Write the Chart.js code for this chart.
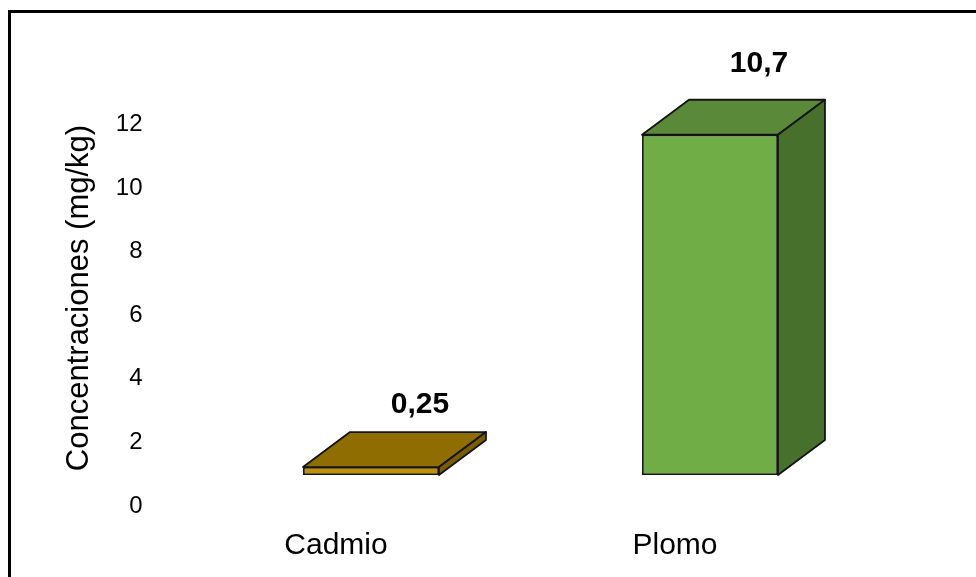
<!DOCTYPE html>
<html>
<head>
<meta charset="utf-8">
<script src="https://cdn.jsdelivr.net/npm/chart.js@4.4.1/dist/chart.umd.min.js"></script>
<style>
  html, body { margin: 0; padding: 0; background: #fff; }
  #wrap { width: 976px; height: 577px; position: relative; }
</style>
</head>
<body>
<div id="wrap"><canvas id="chart"></canvas></div>
<script>
// data
const categories = ['Cadmio', 'Plomo'];
const concentrations = [0.25, 10.7];
const yMin = 0;
const yMax = 12;
const yStep = 2;
const axisTitle = 'Concentraciones (mg/kg)';

// colours for the three faces of each box
const frontColors = ['#BF9000', '#70AD47'];
const topColors = ['#8F6D00', '#5A8A39'];
const sideColors = ['#7A5D00', '#47702C'];
const labelGaps = [19, 28];

const DEPTH_X = 47;
const DEPTH_Y = -35;
const FONT = "'Liberation Sans', Arial, sans-serif";

const fmt = v => String(v).replace('.', ',');

// top + right side of each bar, then the value above it
const boxes3d = {
  id: 'boxes3d',
  afterDatasetsDraw(chart) {
    const ctx = chart.ctx;
    const meta = chart.getDatasetMeta(0);
    meta.data.forEach((bar, i) => {
      const { x, y, base, width } = bar.getProps(['x', 'y', 'base', 'width'], true);
      const l = x - width / 2, r = x + width / 2;
      ctx.save();
      ctx.lineWidth = 1.8;
      ctx.strokeStyle = '#141414';
      ctx.lineJoin = 'round';

      // top face
      ctx.beginPath();
      ctx.moveTo(l, y);
      ctx.lineTo(l + DEPTH_X, y + DEPTH_Y);
      ctx.lineTo(r + DEPTH_X, y + DEPTH_Y);
      ctx.lineTo(r, y);
      ctx.closePath();
      ctx.fillStyle = topColors[i];
      ctx.fill();
      ctx.stroke();

      // side face
      ctx.beginPath();
      ctx.moveTo(r, y);
      ctx.lineTo(r + DEPTH_X, y + DEPTH_Y);
      ctx.lineTo(r + DEPTH_X, base + DEPTH_Y);
      ctx.lineTo(r, base);
      ctx.closePath();
      ctx.fillStyle = sideColors[i];
      ctx.fill();
      ctx.stroke();

      // value label
      ctx.fillStyle = '#000';
      ctx.font = 'bold 30px ' + FONT;
      ctx.textAlign = 'center';
      ctx.textBaseline = 'alphabetic';
      ctx.fillText(fmt(concentrations[i]), x + DEPTH_X + 2, y + DEPTH_Y - labelGaps[i]);
      ctx.restore();
    });
  },
  afterDraw(chart) {
    const ctx = chart.ctx;
    ctx.save();
    // y axis title, kept off the chart area centre like the original
    ctx.translate(88, 298);
    ctx.rotate(-Math.PI / 2);
    ctx.font = '31px ' + FONT;
    ctx.fillStyle = '#000';
    ctx.textAlign = 'center';
    ctx.textBaseline = 'alphabetic';
    ctx.fillText(axisTitle, 0, 0);
    ctx.restore();

    // outer frame, runs off the right and bottom edges
    ctx.save();
    ctx.lineWidth = 3;
    ctx.strokeStyle = '#000';
    ctx.strokeRect(9.5, 11.5, 1200, 1200);
    ctx.restore();
  }
};

Chart.defaults.font.family = FONT;
Chart.defaults.color = '#000';

new Chart(document.getElementById('chart'), {
  type: 'bar',
  data: {
    labels: categories,
    datasets: [{
      data: concentrations,
      backgroundColor: frontColors,
      borderColor: '#141414',
      borderWidth: 1.8,
      borderSkipped: false,
      barPercentage: 0.401,
      categoryPercentage: 1
    }]
  },
  options: {
    responsive: true,
    maintainAspectRatio: false,
    animation: false,
    layout: { padding: { left: 0, top: 93.4, right: 96.5, bottom: 0 } },
    plugins: {
      legend: { display: false },
      tooltip: { enabled: false }
    },
    scales: {
      x: {
        grid: { display: false },
        border: { display: false },
        ticks: {
          font: { size: 30 },
          padding: 45,
          labelOffset: -35
        },
        afterFit(scale) { scale.height = 102; }
      },
      y: {
        min: yMin,
        max: yMax,
        grid: { display: false },
        border: { display: false },
        ticks: {
          stepSize: yStep,
          font: { size: 24 },
          padding: 51,
          labelOffset: 31
        },
        afterFit(scale) { scale.width = 201.5; }
      }
    }
  },
  plugins: [boxes3d]
});
</script>
</body>
</html>
